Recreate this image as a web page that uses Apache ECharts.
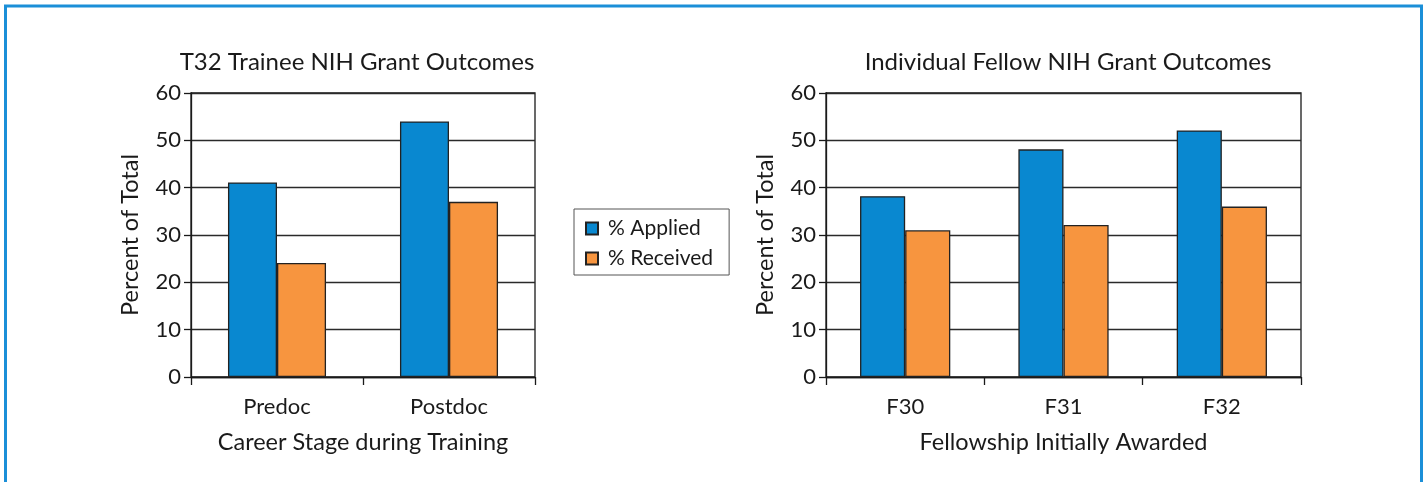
<!DOCTYPE html>
<html>
<head>
<meta charset="utf-8">
<script src="https://cdn.jsdelivr.net/npm/echarts@6/dist/echarts.min.js"></script>
<style>
  html, body { margin: 0; padding: 0; background: #ffffff; }
  #chart { width: 1424px; height: 482px; }
</style>
</head>
<body>
<div id="chart"></div>
<script>
// T32 trainees by career stage
const stageCategories = ['Predoc', 'Postdoc'];
const stageApplied = [41.1, 54.0];
const stageReceived = [24.1, 37.0];

// Individual fellows by fellowship type
const fellowCategories = ['F30', 'F31', 'F32'];
const fellowApplied = [38.2, 48.1, 52.1];
const fellowReceived = [31.0, 32.1, 36.0];

const yTicks = { min: 0, max: 60, interval: 10 };
const seriesNames = ['% Applied', '% Received'];

const FONT = 'Lato, "Open Sans", sans-serif';
const INK = '#1a1a1a';
const BLUE = '#0988d0';
const ORANGE = '#f7953f';
const FRAME = '#1b8fd8';

const chart = echarts.init(document.getElementById('chart'), null, { renderer: 'canvas' });

function xAxisFor(gridIndex, cats, name) {
  return {
    type: 'category',
    gridIndex,
    data: cats,
    name,
    nameLocation: 'middle',
    nameGap: 53,
    nameTextStyle: { fontFamily: FONT, fontSize: 23.5, color: INK },
    axisLine: { lineStyle: { color: INK, width: 1.3 } },
    axisTick: { show: true, length: 8, lineStyle: { color: INK, width: 1.3 } },
    axisLabel: { fontFamily: FONT, fontSize: 22, color: INK, margin: 19 },
    splitLine: { show: false }
  };
}

function yAxisFor(gridIndex) {
  return {
    type: 'value',
    gridIndex,
    min: yTicks.min,
    max: yTicks.max,
    interval: yTicks.interval,
    name: 'Percent of Total',
    nameLocation: 'middle',
    nameRotate: 90,
    nameGap: 49,
    nameTextStyle: { fontFamily: FONT, fontSize: 23.5, color: INK },
    axisLine: { show: true, lineStyle: { color: INK, width: 1.3 } },
    axisTick: { show: true, length: 7, lineStyle: { color: INK, width: 1.3 } },
    axisLabel: { fontFamily: FONT, fontSize: 22, color: INK, margin: 10 },
    splitLine: { show: true, lineStyle: { color: '#2a2a2a', width: 1.3 } }
  };
}

function barSeries(name, data, idx, color) {
  return {
    type: 'bar',
    name,
    data,
    xAxisIndex: idx,
    yAxisIndex: idx,
    barGap: '0%',
    barCategoryGap: '43%',
    itemStyle: { color, borderColor: '#222', borderWidth: 1.3 },
    emphasis: { disabled: true },
    animation: false
  };
}

chart.setOption({
  backgroundColor: '#ffffff',
  animation: false,
  title: [
    {
      text: 'T32 Trainee NIH Grant Outcomes',
      left: 352, top: 45, textAlign: 'center',
      textStyle: { fontFamily: FONT, fontSize: 24, fontWeight: 'normal', color: INK }
    },
    {
      text: 'Individual Fellow NIH Grant Outcomes',
      left: 1063, top: 45, textAlign: 'center',
      textStyle: { fontFamily: FONT, fontSize: 24, fontWeight: 'normal', color: INK }
    }
  ],
  legend: {
    orient: 'vertical',
    left: 574,
    top: 209,
    data: seriesNames,
    padding: [9, 16, 6, 11],
    itemGap: 9,
    itemWidth: 12,
    itemHeight: 12,
    icon: 'rect',
    borderColor: '#555',
    borderWidth: 1,
    textStyle: { fontFamily: FONT, fontSize: 21, color: INK, padding: [0, 0, 0, 5] },
    selectedMode: false
  },
  grid: [
    { left: 191, top: 93, width: 344, height: 284, show: true, borderColor: INK, borderWidth: 1.3, backgroundColor: 'transparent' },
    { left: 826, top: 93, width: 475, height: 284, show: true, borderColor: INK, borderWidth: 1.3, backgroundColor: 'transparent' }
  ],
  xAxis: [
    xAxisFor(0, stageCategories, 'Career Stage during Training'),
    xAxisFor(1, fellowCategories, 'Fellowship Initially Awarded')
  ],
  yAxis: [yAxisFor(0), yAxisFor(1)],
  series: [
    barSeries(seriesNames[0], stageApplied, 0, BLUE),
    barSeries(seriesNames[1], stageReceived, 0, ORANGE),
    barSeries(seriesNames[0], fellowApplied, 1, BLUE),
    barSeries(seriesNames[1], fellowReceived, 1, ORANGE)
  ],
  graphic: [
    {
      type: 'rect',
      silent: true,
      z: 100,
      shape: { x: 5.5, y: 6, width: 1416, height: 600 },
      style: { fill: 'none', stroke: FRAME, lineWidth: 3 }
    }
  ]
});
</script>
</body>
</html>
